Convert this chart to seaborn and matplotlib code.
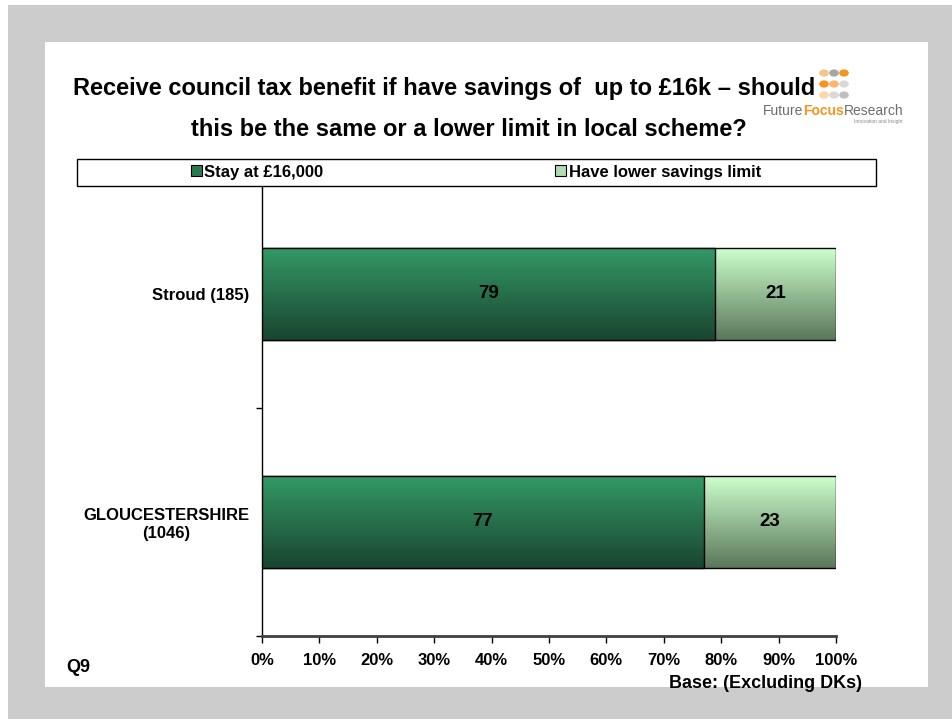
# council_tax_savings_chart.py
# - Stacked horizontal bar chart of savings-limit preference by area
# - Uses seaborn/matplotlib, gradient fills clipped to the bars

import matplotlib
matplotlib.use("Agg")
import matplotlib.pyplot as plt
import numpy as np
import pandas as pd
import seaborn as sns
from matplotlib.colors import LinearSegmentedColormap
from matplotlib.patches import Rectangle

# Data
areas = ["Stroud (185)", "GLOUCESTERSHIRE\n(1046)"]
stay_pct = [79, 77]
lower_pct = [21, 23]
series_names = ["Stay at £16,000", "Have lower savings limit"]
x_ticks = [0, 10, 20, 30, 40, 50, 60, 70, 80, 90, 100]

DARK_TOP, DARK_BOTTOM = "#339966", "#1a4530"
LIGHT_TOP, LIGHT_BOTTOM = "#ccffcc", "#5a775a"

W, H = 953, 719


def fx(px):
    """Pixel x to figure fraction."""
    return px / W


def fy(py):
    """Pixel y (from top) to figure fraction."""
    return 1 - py / H


def gradient_fill(ax, patch, top, bottom, zorder):
    """Paint a vertical gradient inside a bar patch."""
    cmap = LinearSegmentedColormap.from_list("g", [top, bottom])
    grad = np.linspace(0, 1, 256).reshape(-1, 1)
    x0, y0 = patch.get_x(), patch.get_y()
    w, h = patch.get_width(), patch.get_height()
    im = ax.imshow(grad, cmap=cmap, aspect="auto", origin="upper",
                   extent=(x0, x0 + w, y0 + h, y0), zorder=zorder,
                   interpolation="bilinear")
    im.set_clip_path(patch)
    patch.set_facecolor("none")
    patch.set_zorder(zorder + 0.5)


sns.set_theme(style="white")
plt.rcParams["font.family"] = ["Liberation Sans", "DejaVu Sans"]
plt.rcParams["font.weight"] = "bold"
plt.rcParams["text.color"] = "black"
plt.rcParams["xtick.color"] = "black"
plt.rcParams["ytick.color"] = "black"
plt.rcParams["axes.labelcolor"] = "black"

df = pd.DataFrame({"area": areas, "stay": stay_pct, "lower": lower_pct})
df["total"] = df["stay"] + df["lower"]

fig = plt.figure(figsize=(W / 100, H / 100), dpi=100, facecolor="white")

# Grey slide frame with white panel
fig.patches.append(Rectangle((fx(8), 0), fx(945), 1 - 5 / H, transform=fig.transFigure,
                             facecolor="#cccccc", edgecolor="none", zorder=-20))
fig.patches.append(Rectangle((fx(45), fy(687)), fx(883), 645 / H, transform=fig.transFigure,
                             facecolor="white", edgecolor="none", zorder=-19))

ax = fig.add_axes([fx(262), fy(636), fx(574), 456 / H])
ax.set_facecolor("none")

# Stacked bars: full length first, then the "stay" part over it
sns.barplot(data=df, x="total", y="area", orient="h", color=LIGHT_TOP, saturation=1,
            width=0.40, edgecolor="black", linewidth=1, ax=ax)
sns.barplot(data=df, x="stay", y="area", orient="h", color=DARK_TOP, saturation=1,
            width=0.40, edgecolor="black", linewidth=1, ax=ax)

n = len(areas)
for i, patch in enumerate(ax.patches):
    if i < n:
        gradient_fill(ax, patch, LIGHT_TOP, LIGHT_BOTTOM, zorder=2)
    else:
        gradient_fill(ax, patch, DARK_TOP, DARK_BOTTOM, zorder=4)

# Segment labels
for i in range(n):
    ax.text(stay_pct[i] / 2, i, f"{stay_pct[i]}", ha="center", va="center",
            fontsize=13.5, fontweight="bold", color="black", zorder=6)
    ax.text(stay_pct[i] + lower_pct[i] / 2, i, f"{lower_pct[i]}", ha="center",
            va="center", fontsize=13.5, fontweight="bold", color="black", zorder=6)

ax.set_xlim(0, 100)
ax.set_ylim(n - 0.5, -0.5)
ax.set_xticks(x_ticks)
ax.set_xticklabels([f"{t}%" for t in x_ticks])
ax.set_yticks(range(n))
ax.set_yticks([i - 0.5 for i in range(n + 1)], minor=True)
ax.set_xlabel("")
ax.set_ylabel("")

for side in ["top", "right"]:
    ax.spines[side].set_visible(False)
ax.spines["left"].set_color("black")
ax.spines["left"].set_linewidth(1)
ax.spines["bottom"].set_color("#404040")
ax.spines["bottom"].set_linewidth(2)

ax.tick_params(axis="x", direction="out", length=5, width=1, color="black",
               labelsize=12, pad=7, bottom=True)
ax.tick_params(axis="y", which="major", length=0, labelsize=12, pad=9)
ax.tick_params(axis="y", which="minor", direction="out", length=4, width=1,
               color="black", left=True)
for lbl in ax.get_yticklabels():
    lbl.set_multialignment("center")
    lbl.set_fontweight("bold")
for lbl in ax.get_xticklabels():
    lbl.set_fontweight("bold")

# Legend box across the top of the plot
fig.patches.append(Rectangle((fx(77), fy(186)), fx(799), 27 / H, transform=fig.transFigure,
                             facecolor="white", edgecolor="black", linewidth=1, zorder=1))
handles = [Rectangle((0, 0), 1, 1, facecolor=c, edgecolor="black", linewidth=0.8)
           for c in ["#2a7a50", "#b0dcb0"]]
fig.legend(handles, series_names, loc="center", bbox_to_anchor=(fx(476), fy(172)),
           ncol=2, frameon=False, handlelength=0.65, handleheight=0.65,
           handletextpad=0.15, columnspacing=13.9, prop={"weight": "bold", "size": 12})

# Title
fig.text(fx(444), fy(88), "Receive council tax benefit if have savings of  up to £16k \u2013 should",
         ha="center", va="center", fontsize=17, fontweight="bold")
fig.text(fx(469), fy(130), "this be the same or a lower limit in local scheme?",
         ha="center", va="center", fontsize=17, fontweight="bold")

# Logo: dot grid plus word mark
dot_x = [824, 834, 844]
dot_y = [73, 84, 95]
dot_colors = [["#f9c48a", "#a6a6a6", "#f7941d"],
              ["#f7941d", "#fbb86b", "#d9d9d9"],
              ["#fcd5a8", "#d9d9d9", "#bfbfbf"]]
for r, yy in enumerate(dot_y):
    for c, xx in enumerate(dot_x):
        fig.patches.append(plt.Circle((fx(xx), fy(yy)), 4.8 / W, transform=fig.transFigure,
                                      facecolor=dot_colors[r][c], edgecolor="none", zorder=0))

renderer = fig.canvas.get_renderer()
x_cursor = 763
for word, color, weight in [("Future", "#6d6d6d", "normal"),
                            ("Focus", "#f7941d", "bold"),
                            ("Research", "#6d6d6d", "normal")]:
    t = fig.text(fx(x_cursor), fy(111), word, ha="left", va="center", fontsize=10,
                 fontweight=weight, color=color)
    x_cursor += t.get_window_extent(renderer).width
fig.text(fx(878), fy(122), "Innovation and Insight", ha="center", va="center",
         fontsize=3.5, fontweight="normal", color="#888888")

# Footnotes
fig.text(fx(66), fy(667), "Q9", ha="left", va="center", fontsize=13, fontweight="bold")
fig.text(fx(862), fy(684), "Base: (Excluding DKs)", ha="right", va="center",
         fontsize=13, fontweight="bold")

fig.savefig("out.png", dpi=100, facecolor="white")
